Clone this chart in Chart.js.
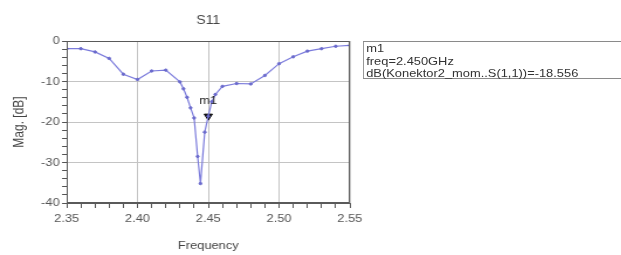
<!DOCTYPE html>
<html>
<head>
<meta charset="utf-8">
<script src="https://cdn.jsdelivr.net/npm/chart.js@4"></script>
<style>
  html, body { margin: 0; padding: 0; background: #fff; overflow: hidden; }
  #wrap { position: absolute; left: 0; top: 0; width: 531px; height: 255px;
          transform: scaleX(1.17); transform-origin: 0 0; }
  #marker-box { position: absolute; left: 310px; top: 41px; width: 240px; height: 36px;
                border: 1px solid #8a8a8a; font: 11px "Liberation Sans", Arial, sans-serif;
                line-height: 12.5px; color: #333; padding-left: 2px; white-space: nowrap; }
</style>
</head>
<body>
<div id="wrap">
  <canvas id="grafico" width="531" height="255"></canvas>
  <div id="marker-box">m1<br>freq=2.450GHz<br>dB(Konektor2_mom..S(1,1))=-18.556</div>
</div>
<script>
// dados (GHz, dB)
const frequencias = [2.35, 2.36, 2.37, 2.38, 2.39, 2.40, 2.41, 2.42, 2.43, 2.4325, 2.435, 2.4375,
                     2.44, 2.4425, 2.4445, 2.4475, 2.45, 2.4525, 2.455, 2.46, 2.47, 2.48, 2.49,
                     2.50, 2.51, 2.52, 2.53, 2.54, 2.55];
const magnitudes = [-1.9, -1.9, -2.7, -4.3, -8.2, -9.5, -7.4, -7.2, -10.1, -11.8, -13.9, -16.5,
                    -19.0, -28.5, -35.2, -22.5, -18.556, -15.0, -13.2, -11.2, -10.5, -10.6, -8.5,
                    -5.6, -3.9, -2.5, -1.9, -1.3, -1.1];
const marcadorFreq = [2.45];
const marcadorMag = [-18.556];
const marcadorNome = 'm1';
const titulo = 'S11';

const corTexto = '#444';
const fonte = 'Liberation Sans, Arial, sans-serif';

const principalX = (v) => Math.round(v * 100) % 5 === 0;
const principalY = (v) => Math.round(v) % 10 === 0;

// título, moldura e texto do marcador
const extras = {
  id: 'extras',
  afterDraw(chart) {
    const ctx = chart.ctx;
    const a = chart.chartArea;
    ctx.save();
    ctx.strokeStyle = '#5a5a5a';
    ctx.lineWidth = 1;
    ctx.strokeRect(a.left + 0.5, a.top + 0.5, a.right - a.left - 1, a.bottom - a.top - 1);
    ctx.fillStyle = corTexto;
    ctx.font = '12px ' + fonte;
    ctx.textAlign = 'center';
    ctx.textBaseline = 'middle';
    ctx.fillText(titulo, (a.left + a.right) / 2, 21);
    const x = chart.scales.x.getPixelForValue(marcadorFreq[0]);
    const y = chart.scales.y.getPixelForValue(marcadorMag[0]);
    ctx.font = '11px ' + fonte;
    ctx.fillStyle = '#222';
    ctx.fillText(marcadorNome, x, y - 15);
    ctx.restore();
  }
};

new Chart(document.getElementById('grafico'), {
  type: 'scatter',
  data: {
    datasets: [{
      data: frequencias.map((f, i) => ({ x: f, y: magnitudes[i] })),
      showLine: true,
      borderColor: '#7c7cdc',
      borderWidth: 1.2,
      backgroundColor: '#6a6acc',
      pointBorderColor: '#6a6acc',
      pointBorderWidth: 1,
      pointRadius: 1.2
    }, {
      data: marcadorFreq.map((f, i) => ({ x: f, y: marcadorMag[i] })),
      pointStyle: 'triangle',
      rotation: 180,
      pointRadius: 4,
      pointBorderWidth: 1,
      backgroundColor: '#000',
      borderColor: '#000'
    }]
  },
  options: {
    responsive: false,
    animation: false,
    layout: { padding: { top: 41, right: 232, left: 0, bottom: 0 } },
    plugins: { legend: { display: false }, tooltip: { enabled: false } },
    scales: {
      x: {
        type: 'linear',
        min: 2.35,
        max: 2.55,
        afterFit: (s) => { s.height = 52; },
        ticks: {
          stepSize: 0.01,
          autoSkip: false,
          maxRotation: 0,
          padding: 4,
          color: '#555',
          font: { size: 11, family: fonte },
          callback: (v) => principalX(v) ? v.toFixed(2) : ''
        },
        grid: {
          tickLength: 5,
          color: (c) => principalX(c.tick.value) ? '#c4c4c4' : 'rgba(0,0,0,0)',
          tickColor: '#555'
        },
        border: { color: '#5a5a5a' },
        title: {
          display: true,
          text: 'Frequency',
          color: corTexto,
          font: { size: 11, family: fonte },
          padding: { top: 0, bottom: 2 }
        }
      },
      y: {
        min: -40,
        max: 0,
        afterFit: (s) => { s.width = 57; },
        ticks: {
          stepSize: 2,
          autoSkip: false,
          padding: 2,
          color: '#555',
          font: { size: 11, family: fonte },
          callback: (v) => principalY(v) ? String(Math.round(v)) : ''
        },
        grid: {
          tickLength: 4,
          color: (c) => principalY(c.tick.value) ? '#c4c4c4' : 'rgba(0,0,0,0)',
          tickColor: '#555'
        },
        border: { color: '#5a5a5a' },
        title: {
          display: true,
          text: 'Mag. [dB]',
          color: corTexto,
          font: { size: 12, family: fonte },
          padding: { top: 9, bottom: 0 }
        }
      }
    }
  },
  plugins: [extras]
});
</script>
</body>
</html>
